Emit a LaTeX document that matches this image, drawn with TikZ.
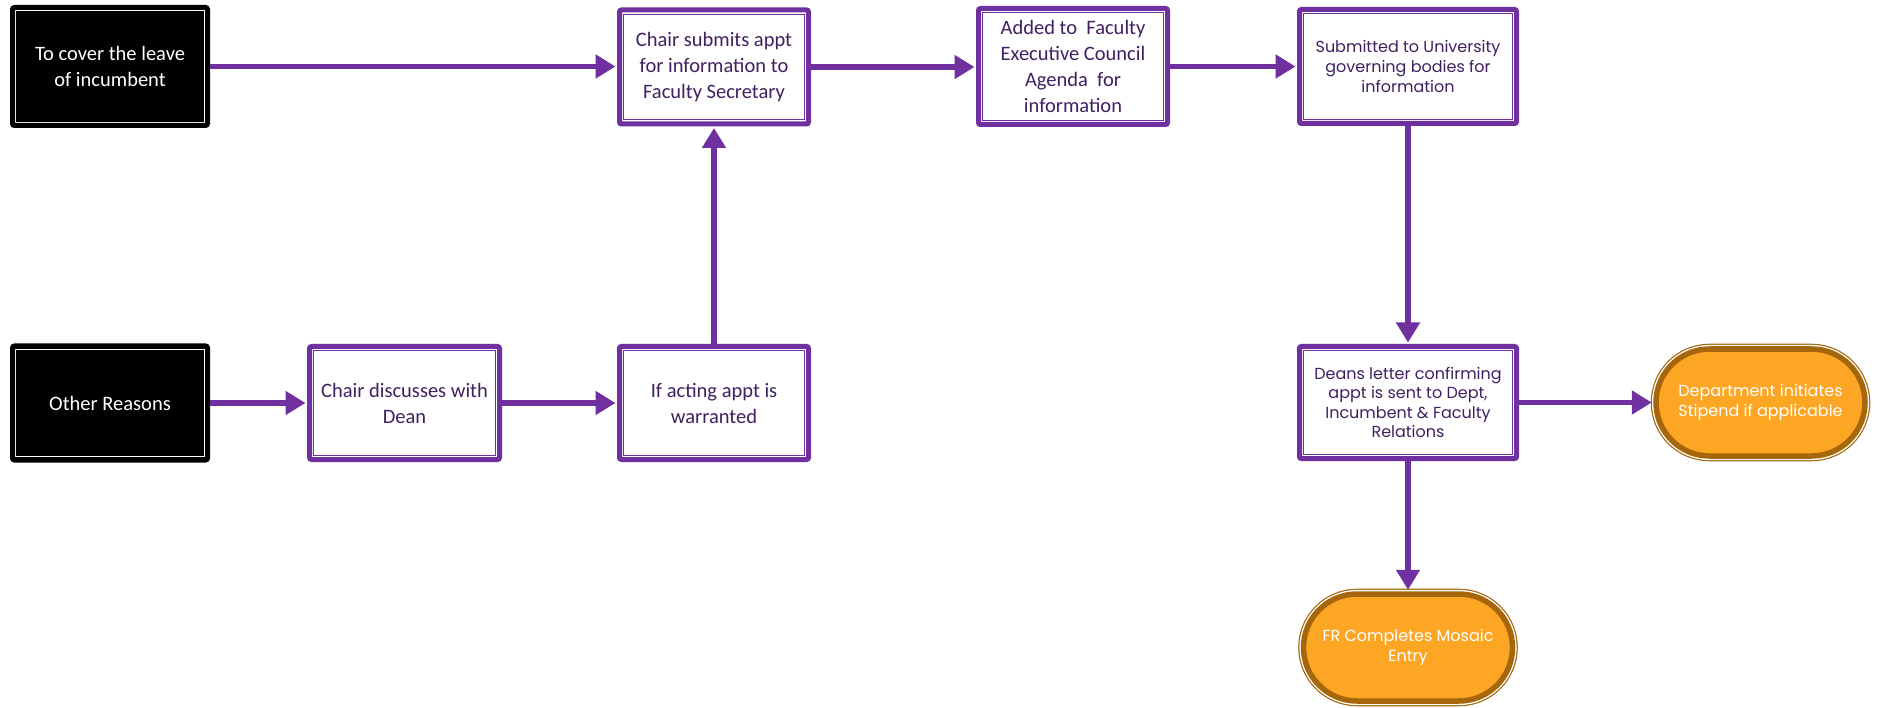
\documentclass[tikz,border=0pt]{standalone}
\usepackage{fontspec}
\setmainfont{Carlito}
\newfontfamily\pop{Poppins}
\usetikzlibrary{arrows.meta}
\definecolor{pur}{RGB}{112,48,160}
\definecolor{txtpur}{RGB}{64,32,96}
\definecolor{orng}{RGB}{252,166,36}
\definecolor{brn}{RGB}{166,102,10}
\begin{document}
\begin{tikzpicture}[x=1pt,y=-1pt,
  pbox/.style={draw=pur, line width=5pt, fill=white, rounded corners=2pt, text=txtpur,
    font=\fontsize{20.5}{26}\selectfont, align=center, inner sep=0pt,
    path picture={\draw[pur, line width=1.2pt, sharp corners]
      ([shift={(4.2pt,-4.2pt)}]path picture bounding box.north west) rectangle
      ([shift={(-4.2pt,4.2pt)}]path picture bounding box.south east);}},
  popbox/.style={pbox, font=\pop\fontsize{16}{19.6}\selectfont},
  bbox/.style={draw=black, line width=5pt, fill=black, rounded corners=2pt, text=white,
    font=\fontsize{20.5}{26}\selectfont, align=center, inner sep=0pt,
    path picture={\draw[white, line width=0.9pt, sharp corners]
      ([shift={(3.1pt,-3.1pt)}]path picture bounding box.north west) rectangle
      ([shift={(-3.1pt,3.1pt)}]path picture bounding box.south east);}},
  oval/.style={draw=brn, line width=5.5pt, fill=orng, rounded corners=53.5pt, text=white,
    font=\pop\fontsize{16}{19.6}\selectfont, align=center, inner sep=0pt,
    minimum width=209pt, minimum height=107pt,
    preaction={draw=brn, line width=10.6pt},
    preaction={draw=white, line width=8.2pt}},
  arr/.style={draw=pur, line width=5.5pt, -{Triangle[length=20pt,width=23pt]}, shorten >=1.5pt}
]
\useasboundingbox (0,0) rectangle (1881,708);
% top row
\node[bbox, minimum width=195pt, minimum height=118pt] (A) at (110,66.5)
  {To cover the leave\\of incumbent};
\node[pbox, minimum width=189pt, minimum height=114pt] (B) at (714,67)
  {Chair submits appt\\for information to\\Faculty Secretary};
\node[pbox, minimum width=189pt, minimum height=116pt] (C) at (1073,66.5)
  {Added to\ \ Faculty\\Executive Council\\Agenda\ \ for\\information};
\node[popbox, minimum width=217pt, minimum height=114pt] (D) at (1408,66.5)
  {Submitted to University\\governing bodies for\\information};
% bottom row
\node[bbox, minimum width=195pt, minimum height=114pt] (E) at (110,403)
  {Other Reasons};
\node[pbox, minimum width=190pt, minimum height=113pt] (F) at (404.5,403)
  {Chair discusses with\\Dean};
\node[pbox, minimum width=189pt, minimum height=113pt] (G) at (714,403)
  {If acting appt is\\warranted};
\node[popbox, minimum width=217pt, minimum height=112pt] (H) at (1408,402.5)
  {Deans letter confirming\\appt is sent to Dept,\\Incumbent \& Faculty\\Relations};
\node[oval] (I) at (1760.5,402.5) {Department initiates\\Stipend if applicable};
\node[oval] (J) at (1408,647.5) {FR Completes Mosaic\\Entry};
% connectors
\draw[arr] (A.east) -- (A.east -| B.west);
\draw[arr] (B.east) -- (B.east -| C.west);
\draw[arr] (C.east) -- (C.east -| D.west);
\draw[arr] (D.south) -- (H.north);
\draw[arr] (E.east) -- (E.east -| F.west);
\draw[arr] (F.east) -- (F.east -| G.west);
\draw[arr] (G.north) -- (B.south);
\draw[arr] (H.east) -- (H.east -| I.west);
\draw[arr] (H.south) -- (J.north);
\end{tikzpicture}
\end{document}
